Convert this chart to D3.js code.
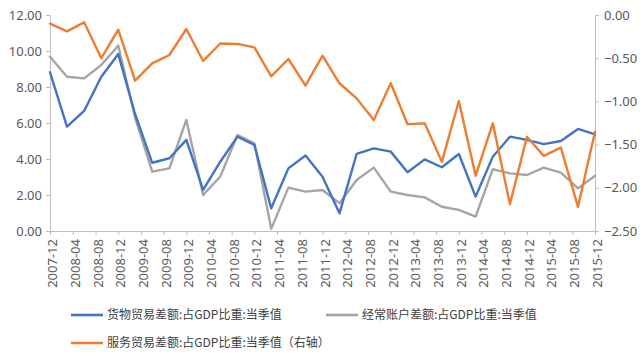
<!DOCTYPE html>
<html><head><meta charset="utf-8">
<script src="https://cdn.jsdelivr.net/npm/d3@7/dist/d3.min.js"></script>
<style>
html,body{margin:0;padding:0;background:#fff;}
svg{display:block;}
text{font-family:"Noto Sans",sans-serif;fill:#595959;}
.lg{font-family:"Noto Sans CJK SC","Noto Sans",sans-serif;font-size:12px;fill:#404040;}
</style></head>
<body>
<svg id="c" width="640" height="356"></svg>
<script>
const quarters = ["2007-12","2008-03","2008-06","2008-09","2008-12","2009-03","2009-06","2009-09","2009-12",
 "2010-03","2010-06","2010-09","2010-12","2011-03","2011-06","2011-09","2011-12","2012-03","2012-06","2012-09","2012-12",
 "2013-03","2013-06","2013-09","2013-12","2014-03","2014-06","2014-09","2014-12","2015-03","2015-06","2015-09","2015-12"];
const goods = [8.82,5.80,6.67,8.57,9.83,6.50,3.79,4.04,5.06,2.28,3.85,5.24,4.78,1.26,3.48,4.19,3.02,0.98,4.28,4.59,4.41,
 3.26,3.98,3.54,4.28,1.91,4.13,5.24,5.06,4.83,5.00,5.67,5.37];
const current = [9.68,8.57,8.48,9.22,10.30,6.30,3.30,3.48,6.17,2.00,3.02,5.33,4.87,0.12,2.41,2.19,2.28,1.54,2.83,3.52,2.19,
 2.00,1.87,1.35,1.17,0.80,3.43,3.20,3.11,3.52,3.24,2.37,3.07];
const services = [-0.10,-0.19,-0.085,-0.50,-0.17,-0.76,-0.56,-0.463,-0.162,-0.532,-0.33,-0.335,-0.374,-0.71,-0.509,-0.818,
 -0.471,-0.79,-0.965,-1.215,-0.79,-1.265,-1.254,-1.70,-0.995,-1.86,-1.254,-2.19,-1.41,-1.63,-1.535,-2.22,-1.35];
const xTickLabels = ["2007-12","2008-04","2008-08","2008-12","2009-04","2009-08","2009-12","2010-04","2010-08","2010-12",
 "2011-04","2011-08","2011-12","2012-04","2012-08","2012-12","2013-04","2013-08","2013-12","2014-04","2014-08","2014-12",
 "2015-04","2015-08","2015-12"];
const leftTicks = [0,2,4,6,8,10,12];
const rightTicks = [0,-0.5,-1,-1.5,-2,-2.5];
const seriesNames = ["货物贸易差额:占GDP比重:当季值","经常账户差额:占GDP比重:当季值","服务贸易差额:占GDP比重:当季值（右轴）"];
const colors = ["#4472C4","#A5A5A5","#ED7D31"];

const parse = d3.timeParse("%Y-%m");
const L=50, R=595, T=15, B=231;
const svg = d3.select("#c");
const x = d3.scaleTime().domain([parse(quarters[0]), parse(quarters[quarters.length-1])]).range([L,R]);
const yL = d3.scaleLinear().domain([0,12]).range([B,T]);
const yR = d3.scaleLinear().domain([-2.5,0]).range([B,T]);
const axisColor = "#bfbfbf";

const gl = svg.append("g").attr("transform",`translate(${L},0)`)
  .call(d3.axisLeft(yL).tickValues(leftTicks).tickFormat(d3.format(".2f")).tickSize(4).tickPadding(4));
const gr = svg.append("g").attr("transform",`translate(${R},0)`)
  .call(d3.axisRight(yR).tickValues(rightTicks).tickFormat(d3.format(".2f")).tickSize(4).tickPadding(5));
const gb = svg.append("g").attr("transform",`translate(0,${B})`)
  .call(d3.axisBottom(x).tickValues(xTickLabels.map(parse)).tickFormat(d3.timeFormat("%Y-%m")).tickSize(4));
[gl,gr,gb].forEach(g=>{
  g.select(".domain").attr("stroke",axisColor);
  g.selectAll(".tick line").attr("stroke",axisColor);
  g.selectAll("text").attr("fill","#595959").style("font-family","Noto Sans").style("font-size","13px");
});
gb.selectAll("text")
  .attr("text-anchor","end").attr("transform","rotate(-90)")
  .attr("x",-8).attr("y",0).attr("dy","0.5em");

const dates = quarters.map(parse);
function draw(vals, y, color){
  const line = d3.line().x((d,i)=>x(dates[i])).y(d=>y(d));
  svg.append("path").datum(vals).attr("d",line).attr("fill","none")
    .attr("stroke",color).attr("stroke-width",2.4).attr("stroke-linejoin","round").attr("stroke-linecap","round");
}
draw(current, yL, colors[1]);
draw(goods, yL, colors[0]);
draw(services, yR, colors[2]);

const legendPos = [[71,315],[326,315],[71,343]];
legendPos.forEach((p,i)=>{
  svg.append("line").attr("x1",p[0]).attr("x2",p[0]+32).attr("y1",p[1]).attr("y2",p[1])
    .attr("stroke",colors[i]).attr("stroke-width",2.6);
  svg.append("text").attr("class","lg").attr("x",p[0]+36).attr("y",p[1]).attr("dy","0.36em").text(seriesNames[i]);
});
</script>
</body></html>
